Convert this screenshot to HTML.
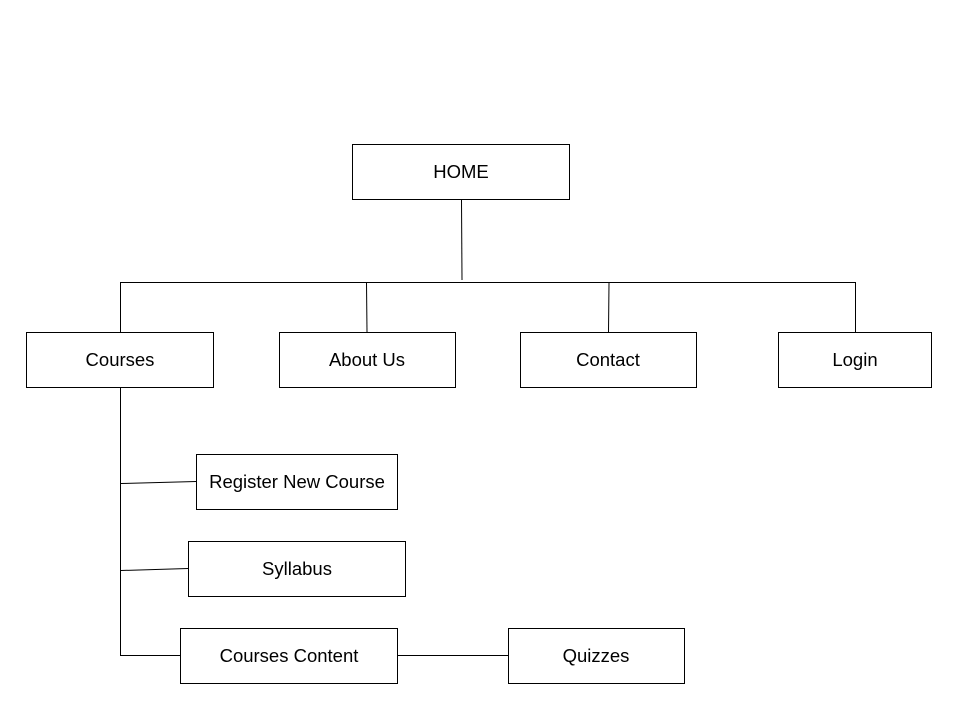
<!DOCTYPE html>
<html><head><meta charset="utf-8"><style>html,body{margin:0;padding:0;background:#fff}</style></head>
<body>
<svg width="960" height="720" xmlns="http://www.w3.org/2000/svg" style="display:block">
<g fill="#fff" stroke="#000" stroke-width="1">
<rect x="352.5" y="144.5" width="217" height="55"/>
<rect x="26.5" y="332.5" width="187" height="55"/>
<rect x="279.5" y="332.5" width="176" height="55"/>
<rect x="520.5" y="332.5" width="176" height="55"/>
<rect x="778.5" y="332.5" width="153" height="55"/>
<rect x="196.5" y="454.5" width="201" height="55"/>
<rect x="188.5" y="541.5" width="217" height="55"/>
<rect x="180.5" y="628.5" width="217" height="55"/>
<rect x="508.5" y="628.5" width="176" height="55"/>
</g>
<g stroke="#000" stroke-width="1" fill="none">
<line x1="461.5" y1="200" x2="462" y2="280"/>
<polyline points="120.5,332 120.5,282.5 855.5,282.5 855.5,332"/>
<line x1="366.5" y1="283" x2="367" y2="332"/>
<line x1="609" y1="283" x2="608.5" y2="332"/>
<polyline points="120.5,388 120.5,655.5 180,655.5"/>
<line x1="121" y1="483.5" x2="196" y2="481.5"/>
<line x1="121" y1="570.5" x2="188" y2="568.5"/>
<line x1="398" y1="655.5" x2="508" y2="655.5"/>
</g>
<g font-family="Liberation Sans, sans-serif" font-size="18.5" text-anchor="middle" fill="#000">
<text x="461" y="178">HOME</text>
<text x="120" y="366">Courses</text>
<text x="367" y="366">About Us</text>
<text x="608" y="366">Contact</text>
<text x="855" y="366">Login</text>
<text x="297" y="488">Register New Course</text>
<text x="297" y="575">Syllabus</text>
<text x="289" y="662">Courses Content</text>
<text x="596" y="662">Quizzes</text>
</g>
</svg>
</body></html>
